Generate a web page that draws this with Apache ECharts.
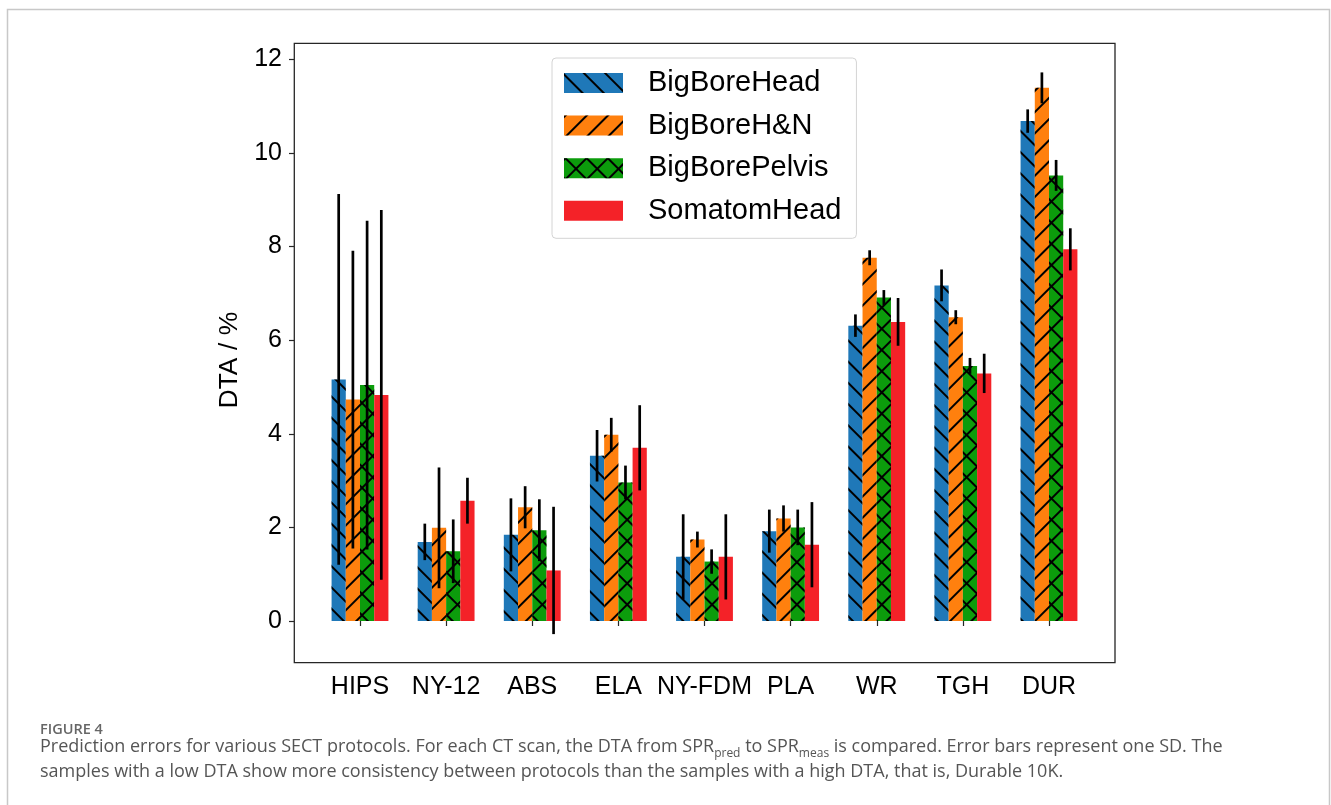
<!DOCTYPE html>
<html><head><meta charset="utf-8">
<script src="https://cdn.jsdelivr.net/npm/echarts@6/dist/echarts.min.js"></script>
<style>html,body{margin:0;padding:0;background:#fff}#c{width:1331px;height:805px}</style>
</head><body><div id="c"></div>
<script>
const categories = ['HIPS', 'NY-12', 'ABS', 'ELA', 'NY-FDM', 'PLA', 'WR', 'TGH', 'DUR'];
const seriesNames = ['BigBoreHead', 'BigBoreH&N', 'BigBorePelvis', 'SomatomHead'];
const bigBoreHead     = [5.16, 1.69, 1.84, 3.53, 1.37, 1.92, 6.31, 7.17, 10.68];
const bigBoreHeadSD   = [3.96, 0.39, 0.78, 0.55, 0.91, 0.46, 0.24, 0.34, 0.25];
const bigBoreHN       = [4.73, 1.99, 2.43, 3.98, 1.74, 2.19, 7.76, 6.49, 11.39];
const bigBoreHNSD     = [3.18, 1.29, 0.45, 0.36, 0.17, 0.28, 0.16, 0.15, 0.33];
const bigBorePelvis   = [5.04, 1.49, 1.94, 2.96, 1.27, 2.00, 6.91, 5.45, 9.52];
const bigBorePelvisSD = [3.51, 0.68, 0.66, 0.36, 0.26, 0.38, 0.16, 0.17, 0.33];
const somatomHead     = [4.83, 2.57, 1.08, 3.70, 1.37, 1.63, 6.39, 5.29, 7.94];
const somatomHeadSD   = [3.95, 0.49, 1.36, 0.91, 0.91, 0.91, 0.51, 0.42, 0.45];
const yMin = 0, yMax = 12, yStep = 2;

const means = [bigBoreHead, bigBoreHN, bigBorePelvis, somatomHead];
const sds = [bigBoreHeadSD, bigBoreHNSD, bigBorePelvisSD, somatomHeadSD];
const colors = ['#1f78b8', '#ff800e', '#0c9c0c', '#f42228'];
const BAR_FRAC = 0.165;
const FONT = 'Liberation Sans';

const diag = (rot) => ({ symbol: 'rect', symbolSize: 1, color: '#000', dashArrayX: [[15, 0]], dashArrayY: [2, 13], rotation: rot });
const cross = { symbol: 'rect', symbolSize: 1, color: '#000', dashArrayX: [[2, 13], [15, 0]], dashArrayY: [13, 0, 2, 0], rotation: Math.PI / 4 };
const decals = [diag(Math.PI / 4), diag(-Math.PI / 4), cross, null];

const series = [];
means.forEach((m, i) => {
  const itemStyle = { color: colors[i] };
  if (decals[i]) itemStyle.decal = decals[i];
  series.push({
    type: 'bar', name: seriesNames[i], data: m,
    barWidth: (BAR_FRAC * 100) + '%', barGap: '0%', clip: false,
    itemStyle: itemStyle, z: 2
  });
});
means.forEach((m, i) => {
  series.push({
    type: 'custom', silent: true, z: 5, clip: false,
    data: m.map((v, k) => [k, v - sds[i][k], v + sds[i][k]]),
    encode: { x: 0, y: [1, 2] },
    renderItem: (params, api) => {
      const band = api.size([1, 0])[0];
      const off = (i - 1.5) * BAR_FRAC * band;
      const p1 = api.coord([api.value(0), api.value(1)]);
      const p2 = api.coord([api.value(0), api.value(2)]);
      return { type: 'line', shape: { x1: p1[0] + off, y1: p1[1], x2: p2[0] + off, y2: p2[1] },
               style: { stroke: '#000', lineWidth: 2.7 } };
    }
  });
});

const chart = echarts.init(document.getElementById('c'), null, { renderer: 'canvas' });
chart.setOption({
  animation: false,
  backgroundColor: '#fff',
  textStyle: { fontFamily: FONT },
  grid: [
    { left: 360, right: 282, top: 59.3, bottom: 184, containLabel: false },
    { left: 294.3, top: 43.3, width: 820.7, height: 619.4, show: true, borderColor: '#262626', borderWidth: 1.3, backgroundColor: 'transparent' }
  ],
  xAxis: [
    { type: 'category', data: categories, boundaryGap: false, gridIndex: 0, offset: 41.7,
      axisLine: { show: false }, axisTick: { show: true, length: 5, lineStyle: { color: '#262626', width: 1.2 } },
      axisLabel: { fontSize: 25, color: '#000', margin: 12, interval: 0, fontFamily: FONT },
      splitLine: { show: false } },
    { type: 'value', gridIndex: 1, show: false, min: 0, max: 1 }
  ],
  yAxis: [
    { type: 'value', min: yMin, max: yMax, interval: yStep, gridIndex: 0, offset: 66,
      name: 'DTA / %', nameLocation: 'middle', nameGap: 43,
      nameTextStyle: { fontSize: 26.5, color: '#000', fontFamily: FONT, padding: [0, 40, 0, 0] },
      axisLine: { show: false }, axisTick: { show: true, length: 5, lineStyle: { color: '#262626', width: 1.2 } },
      axisLabel: { fontSize: 25, color: '#000', margin: 12, fontFamily: FONT },
      splitLine: { show: false } },
    { type: 'value', gridIndex: 1, show: false, min: 0, max: 1 }
  ],
  legend: {
    data: seriesNames, orient: 'vertical', left: 552, top: 58,
    itemWidth: 59, itemHeight: 20, itemGap: 13.6, icon: 'rect',
    padding: [10.5, 15, 13, 12],
    borderColor: '#d4d4d4', borderWidth: 1, borderRadius: 4, backgroundColor: '#fff',
    textStyle: { fontSize: 29, color: '#000', fontFamily: FONT, padding: [0, 0, 0, 20], lineHeight: 29 }
  },
  graphic: [
    { type: 'rect', silent: true, z: -1, shape: { x: 7.5, y: 9.5, width: 1322, height: 900 },
      style: { fill: 'none', stroke: '#c8c8c8', lineWidth: 1.5 } },
    { type: 'text', left: 40, top: 722, silent: true,
      style: { text: 'FIGURE 4', fontFamily: 'Open Sans', fontWeight: 600, fontSize: 14.5, fill: '#666' } },
    { type: 'text', left: 40, top: 738, silent: true,
      style: {
        text: '{n|Prediction errors for various SECT protocols. For each CT scan, the DTA from SPR}{s|pred}{n| to SPR}{s|meas}{n| is compared. Error bars represent one SD. The}\n{n|samples with a low DTA show more consistency between protocols than the samples with a high DTA, that is, Durable 10K.}',
        fontFamily: 'Open Sans', fontSize: 18, fill: '#555',
        rich: {
          n: { fontFamily: 'Open Sans', fontSize: 18, lineHeight: 25, fill: '#555' },
          s: { fontFamily: 'Open Sans', fontSize: 12, lineHeight: 12, verticalAlign: 'bottom', fill: '#555' }
        }
      } }
  ],
  series: series
});
</script>
</body></html>
